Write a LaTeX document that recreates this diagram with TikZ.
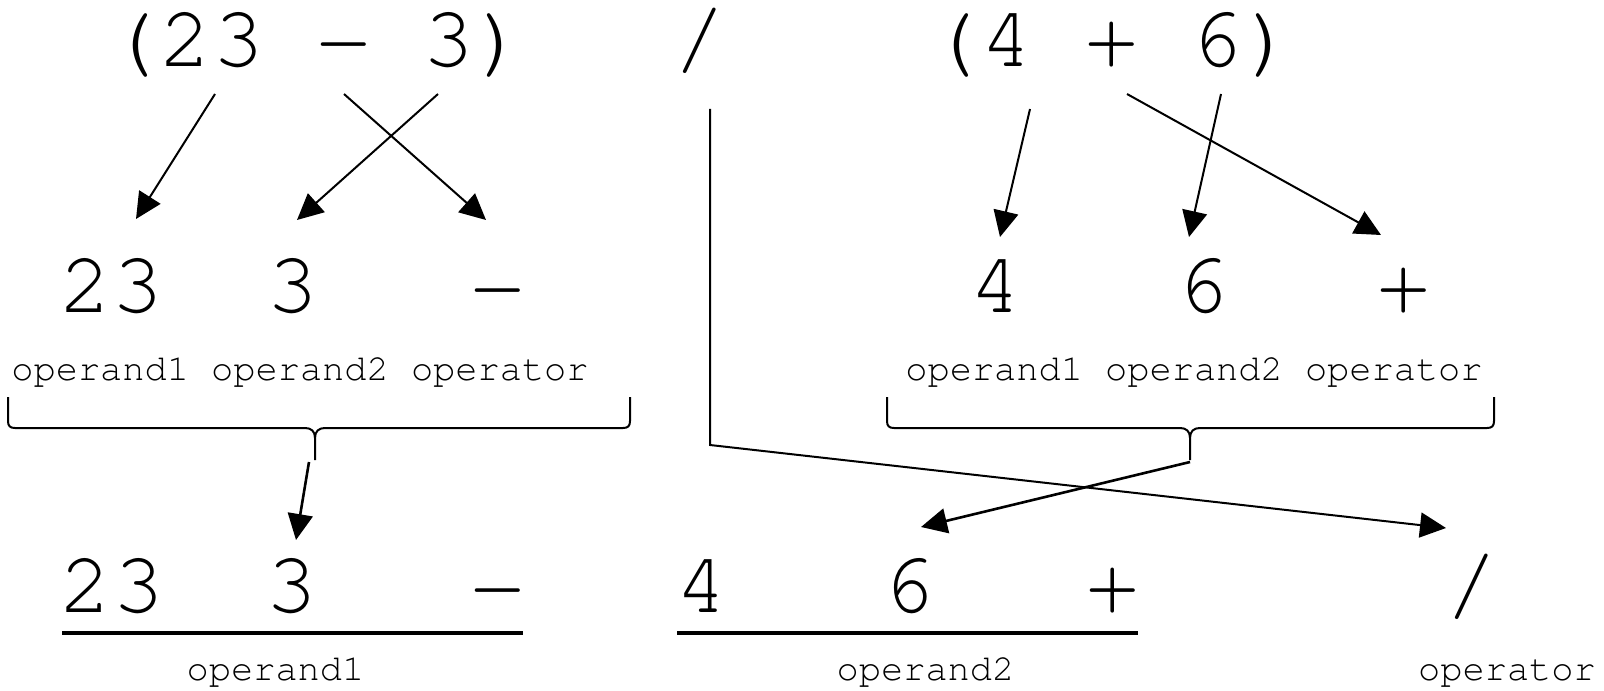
\documentclass[tikz,border=0pt]{standalone}
\usepackage{fontspec}
\newfontfamily\mono{TeX Gyre Cursor}
\usetikzlibrary{arrows.meta}
\begin{document}
\begin{tikzpicture}[x=0.5pt,y=-0.5pt,
 big/.style={font=\mono\fontsize{43.75}{50}\selectfont, inner sep=0, anchor=base},
 lab/.style={font=\mono\fontsize{18.5}{20}\selectfont, inner sep=0, anchor=base},
 arr/.style={line width=1pt, -{Triangle[length=13pt,width=12.5pt]}},
 thickarr/.style={line width=1.3pt, -{Triangle[length=13pt,width=12.5pt]}},
 bracepath/.style={line width=1pt},
 uline/.style={line width=2pt}]
\useasboundingbox (0,0) rectangle (1604,690);
% top row
\node[big] (e1) at (317,67) {(23 − 3)};
\node[big] (slash) at (700,67) {/};
\node[big] (e2) at (1112,67) {(4 + 6)};
% middle row
\node[big] (m23) at (111.5,312) {23};
\node[big] (m3) at (292.5,312) {3};
\node[big] (mminus) at (497.5,312) {−};
\node[big] (m4) at (995.5,312) {4};
\node[big] (m6) at (1202.5,312) {6};
\node[big] (mplus) at (1403.5,312) {+};
\node[lab] (labL) at (300,380) {operand1 operand2 operator};
\node[lab] (labR) at (1194,380) {operand1 operand2 operator};
% bottom row
\node[big] (b23) at (112,612) {23};
\node[big] (b3) at (291.5,612) {3};
\node[big] (bminus) at (497.5,612) {−};
\node[big] (b4) at (701.5,612) {4};
\node[big] (b6) at (908.5,612) {6};
\node[big] (bplus) at (1112.5,612) {+};
\node[big] (bslash) at (1472,612) {/};
\node[lab] (lo1) at (275.5,680) {operand1};
\node[lab] (lo2) at (925.5,680) {operand2};
\node[lab] (lop) at (1507,680) {operator};
\coordinate (u1a) at (62,633); \coordinate (u1b) at (523,633);
\coordinate (u2a) at (677,633); \coordinate (u2b) at (1138,633);
\draw[uline] (u1a) -- (u1b);
\draw[uline] (u2a) -- (u2b);
% arrow end points
\coordinate (s1) at (215,94);  \coordinate (t1) at (136,219);
\coordinate (s2) at (438,94);  \coordinate (t2) at (297,220);
\coordinate (s3) at (344,94);  \coordinate (t3) at (486,220);
\coordinate (s4) at (1030,109); \coordinate (t4) at (1000,237);
\coordinate (s5) at (1221,94); \coordinate (t5) at (1189,237);
\coordinate (s6) at (1127,94); \coordinate (t6) at (1381,235);
\draw[arr] (s1) -- (t1);
\draw[arr] (s2) -- (t2);
\draw[arr] (s3) -- (t3);
\draw[arr] (s4) -- (t4);
\draw[arr] (s5) -- (t5);
\draw[arr] (s6) -- (t6);
% braces
\draw[bracepath] (8,397) -- (8,421) .. controls (8,426) and (10,428) .. (15,428) -- (305,428) .. controls (311,428) and (315,431) .. (315,438) -- (315,460)
  (315,438) .. controls (315,431) and (319,428) .. (325,428) -- (623,428) .. controls (628,428) and (630,426) .. (630,421) -- (630,397);
\draw[bracepath] (887,397) -- (887,421) .. controls (887,426) and (889,428) .. (894,428) -- (1180,428) .. controls (1186,428) and (1190,431) .. (1190,438) -- (1190,460)
  (1190,438) .. controls (1190,431) and (1194,428) .. (1200,428) -- (1487,428) .. controls (1492,428) and (1494,426) .. (1494,421) -- (1494,397);
\coordinate (bl) at (309,462); \coordinate (blt) at (296,540);
\coordinate (br) at (1190,462); \coordinate (brt) at (921,527);
\draw[thickarr] (bl) -- (blt);
\draw[thickarr] (br) -- (brt);
\coordinate (v1) at (710,109); \coordinate (v2) at (710,445); \coordinate (vt) at (1446,528);
\draw[arr] (v1) -- (v2) -- (vt);
\end{tikzpicture}
\end{document}
